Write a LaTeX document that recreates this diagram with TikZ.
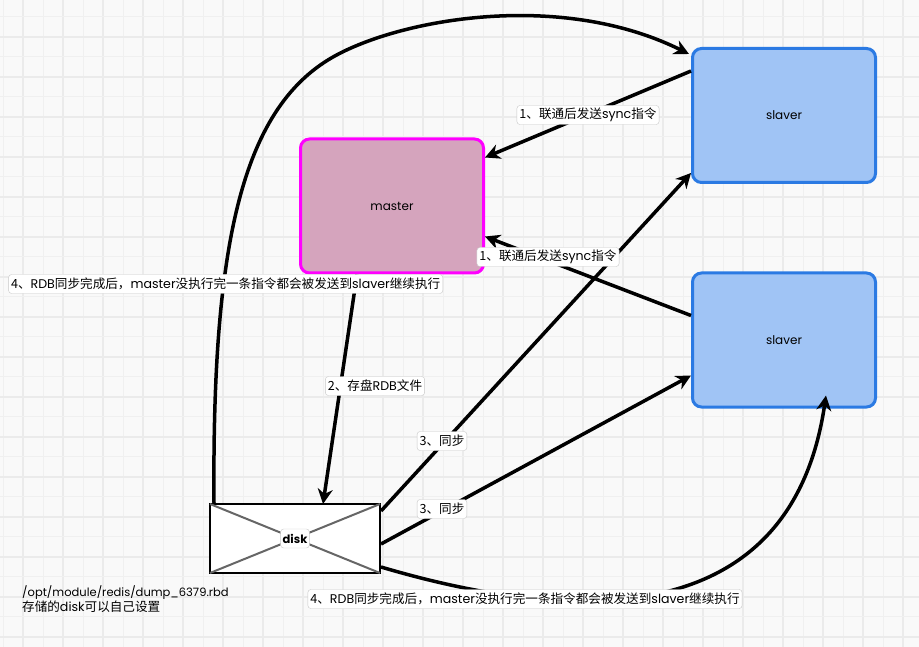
\documentclass[tikz,border=0pt]{standalone}
\usepackage{fontspec}
\setmainfont{Noto Sans CJK SC}
\newfontfamily\pop{Poppins}
\usetikzlibrary{arrows.meta,calc}
\definecolor{bgc}{HTML}{F9F9F9}
\definecolor{gridminor}{HTML}{F0F0F0}
\definecolor{gridmajor}{HTML}{EBEBEB}
\definecolor{slavefill}{HTML}{A0C4F5}
\definecolor{slaveborder}{HTML}{2B7AE3}
\definecolor{masterfill}{HTML}{D5A4BD}
\definecolor{masterborder}{HTML}{FF00FF}
\definecolor{lblborder}{HTML}{C8C8C8}
\definecolor{diag}{HTML}{666666}
\begin{document}
\begin{tikzpicture}[x=1pt,y=-1pt,
  box/.style={rounded corners=9pt, line width=3pt, minimum width=183pt, minimum height=134pt, font=\pop\fontsize{12}{14}\selectfont},
  slavebox/.style={box, draw=slaveborder, fill=slavefill},
  masterbox/.style={box, draw=masterborder, fill=masterfill},
  diskbox/.style={draw=black, line width=2pt, fill=white, minimum width=170pt, minimum height=69pt},
  conn/.style={line width=3.5pt, -{Stealth[length=15pt,width=15pt]}},
  lbl/.style={draw=lblborder, fill=white, rounded corners=3pt, inner sep=2.5pt, minimum height=19pt, font=\fontsize{12.6}{14}\selectfont},
  note/.style={align=left, font=\fontsize{11.5}{15}\selectfont, inner sep=0pt}
]
\useasboundingbox (0,0) rectangle (919,647);
\fill[bgc] (0,0) rectangle (919,647);
\foreach \k in {0,...,23} {
  \draw[gridminor, line width=1pt] ({3.3+40*\k},0) -- ({3.3+40*\k},647);
  \draw[gridmajor, line width=1.8pt] ({23.3+40*\k},0) -- ({23.3+40*\k},647);
}
\foreach \k in {0,...,16} {
  \draw[gridminor, line width=1pt] (0,{16.7+40*\k}) -- (919,{16.7+40*\k});
  \draw[gridmajor, line width=1.8pt] (0,{36.7+40*\k}) -- (919,{36.7+40*\k});
}

\node[slavebox] (s1) at (784,115.5) {slaver};
\node[slavebox] (s2) at (784,340) {slaver};
\node[masterbox] (m) at (392,206) {master};
\node[diskbox] (d) at (295,538.5) {};
\draw[diag, line width=2pt] ([shift={(1pt,-1pt)}]d.north west) -- ([shift={(-1pt,1pt)}]d.south east);
\draw[diag, line width=2pt] ([shift={(1pt,1pt)}]d.south west) -- ([shift={(-1pt,-1pt)}]d.north east);
\node[lbl, font=\pop\bfseries\fontsize{11.5}{13}\selectfont, inner sep=2pt] (dl) at (d.center) {disk};

% connectors
\draw[conn] ([yshift=-24pt]s1.north west) -- ([yshift=-20pt]m.north east);
\draw[conn] ([yshift=-44pt]s2.north west) -- ([yshift=38pt]m.south east);
\draw[conn] ([xshift=-35pt]m.south) -- ([xshift=28pt,yshift=-1pt]d.north);
\draw[conn] ([yshift=-8pt]d.north east) -- ([yshift=11pt]s1.south west);
\draw[conn] ([yshift=-41pt]d.north east) -- ([yshift=33pt]s2.south west);
\coordinate (c6a) at ([xshift=5pt]d.north west);
\coordinate (c6b) at ([yshift=-7pt,xshift=-2pt]s1.north west);
\draw[conn] (c6a) .. controls (212,250) and (240,110) .. (333,57)
  .. controls (400,19) and (560,-10) .. (c6b);
\coordinate (c7a) at ([yshift=7pt]d.south east);
\coordinate (c7b) at ([xshift=42pt,yshift=13pt]s2.south);
\draw[conn] (c7a) .. controls (560,620) and (790,640) .. (c7b);

% labels
\node[lbl] (l1a) at (588,115) {1、联通后发送{\pop sync}指令};
\node[lbl] (l1b) at (548,257) {1、联通后发送{\pop sync}指令};
\node[lbl, anchor=east] (l4a) at (443,284) {4、{\pop RDB}同步完成后，{\pop master}没执行完一条指令都会被发送到{\pop slaver}继续执行};
\node[lbl] (l2) at (375,386) {2、存盘{\pop RDB}文件};
\node[lbl] (l3a) at (442,441) {3、同步};
\node[lbl] (l3b) at (442,509) {3、同步};
\node[lbl] (l4b) at (525,599) {4、{\pop RDB}同步完成后，{\pop master}没执行完一条指令都会被发送到{\pop slaver}继续执行};
\node[note, anchor=north west] (n1) at (22,585) {{\pop /opt/module/redis/dump\_6379.rbd}\\{\fontsize{12.6}{15}\selectfont 存储的{\pop disk}可以自己设置}};
\end{tikzpicture}
\end{document}
